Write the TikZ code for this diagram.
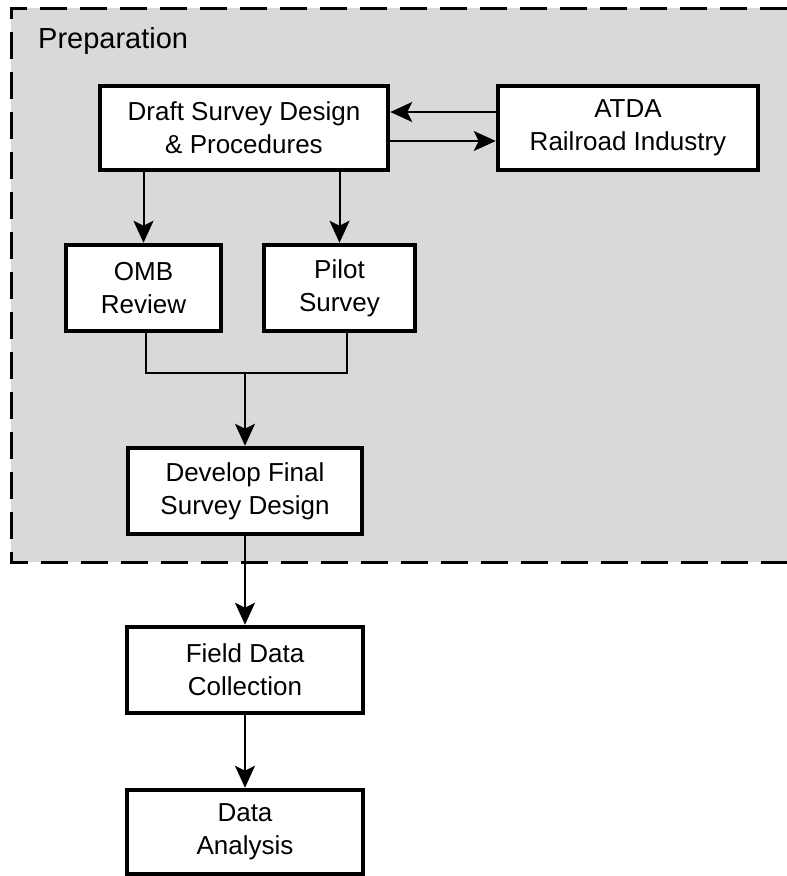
\documentclass[tikz,border=0pt]{standalone}
\usepackage{fontspec}
\setmainfont{Liberation Sans}
\usepackage{xcolor}
\usepackage{tikz}
\usetikzlibrary{arrows.meta}

\begin{document}
\begin{tikzpicture}[x=1pt,y=1pt,
    box/.style={rectangle,draw,line width=4.5pt,fill=white,align=center,
        font=\fontsize{26}{33}\selectfont,minimum height=84pt},
    arr/.style={-{Stealth[length=22pt,width=20pt,inset=5pt]},line width=2pt},
    link/.style={line width=2pt}]
    \useasboundingbox (0,0) rectangle (787,-876);

    % preparation area
    \fill[black!15] (11,-8) rectangle (787,-562);
    \draw[line width=3pt,dash pattern=on 27pt off 13pt] (787,-8) -- (11,-8) -- (11,-562) -- (787,-562);
    \node[anchor=base west,font=\fontsize{29}{33}\selectfont,inner sep=0pt] (Prep) at (38,-48) {Preparation};

    \node[box,minimum width=288pt] (Draft) at (244,-128) {Draft Survey Design\\\& Procedures};
    \node[box,minimum width=260pt,right of=Draft,node distance=384pt] (ATDA) {ATDA\\Railroad Industry};
    \node[box,minimum width=155pt,minimum height=86pt] (OMB) at (143.5,-288) {OMB\\Review};
    \node[box,minimum width=151pt,minimum height=86pt,right of=OMB,node distance=196pt] (Pilot) {Pilot\\Survey};
    \node[box,minimum width=234pt,minimum height=86pt] (Final) at (245,-491) {Develop Final\\Survey Design};
    \node[box,minimum width=236pt,minimum height=86pt,below of=Final,node distance=179pt] (Field) {Field Data\\Collection};
    \node[box,minimum width=236pt,minimum height=84pt,below of=Field,node distance=162pt] (Analysis) {Data\\Analysis};
    \coordinate (J) at (245,-373);

    \draw[arr] ([yshift=16pt]ATDA.west) -- ([yshift=16pt]Draft.east);
    \draw[arr] ([yshift=-13pt]Draft.east) -- ([yshift=-13pt]ATDA.west);
    \draw[arr] (Draft.south -| OMB) -- (OMB);
    \draw[arr] (Draft.south -| Pilot) -- (Pilot);
    \draw[link] ([xshift=2pt]OMB.south) |- (J) -| ([xshift=7pt]Pilot.south);
    \draw[arr] (J) -- (Final);
    \draw[arr] (Final) -- (Field);
    \draw[arr] (Field) -- (Analysis);
\end{tikzpicture}
\end{document}
